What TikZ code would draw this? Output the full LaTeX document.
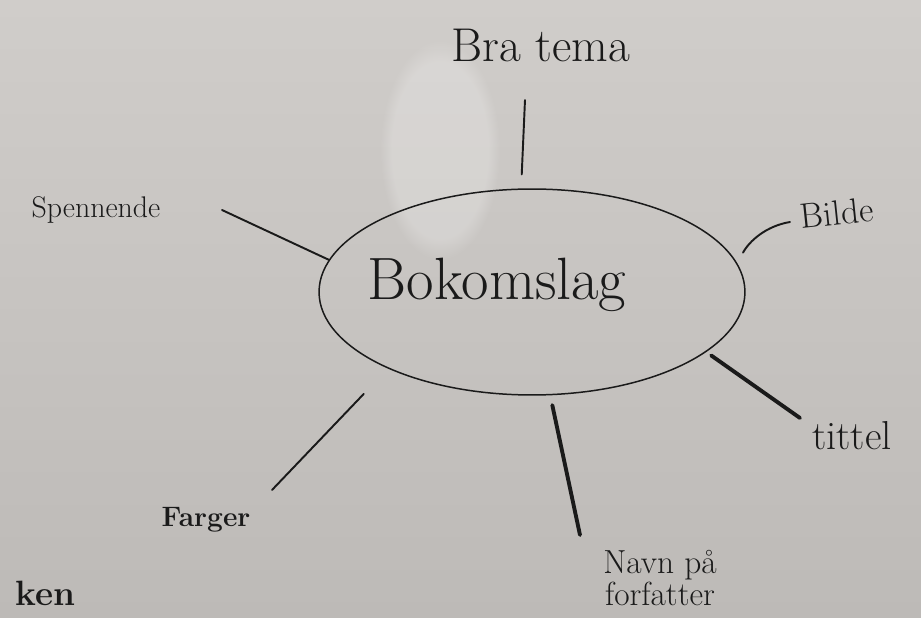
\documentclass[tikz,border=0pt]{standalone}
\usepackage{xcolor}
\usepackage{tikz}
\usetikzlibrary{shapes.geometric,fadings}
\definecolor{bokBoardTop}{HTML}{D0CDCA}
\definecolor{bokBoardLow}{HTML}{BDBAB7}
\definecolor{bokInk}{HTML}{1A1A1A}

\begin{document}
\begin{tikzpicture}[
  x=0.02cm, y=-0.02cm,
  every node/.style={align=center, text=bokInk, inner sep=0pt},
  word/.style={font=\fontsize{#1}{#1}\selectfont},
  boldword/.style={font=\fontsize{#1}{#1}\selectfont\bfseries},
  oval/.style={draw=bokInk, ellipse, line width=0.85pt, minimum width=8.52cm, minimum height=4.12cm},
  spoke/.style={line width=1.1pt, bokInk, line cap=round},
  fatspoke/.style={line width=2.2pt, bokInk, line cap=round},
]
  % whiteboard
  \clip (0,0) rectangle (921,618);
  \shade[top color=bokBoardTop, bottom color=bokBoardLow] (0,0) rectangle (921,618);
  \fill[white, opacity=0.22, path fading=circle with fuzzy edge 20 percent] (440,150) ellipse [x radius=60, y radius=110];

  % centre
  \node[oval] (bok) at (532,292) {};
  \node[word=34pt, anchor=base] (boktxt) at (497,300) {Bokomslag};

  % labels
  \node[word=27pt, anchor=base] (tema) at (541,62) {Bra tema};
  \node[word=17pt, anchor=base] (spenn) at (96,218) {Spennende};
  \node[word=20pt, anchor=base, rotate=6] (bilde) at (838,225) {Bilde};
  \node[word=23pt, anchor=base] (tittel) at (852,450) {tittel};
  \node[font=\fontsize{19pt}{14pt}\selectfont] (navn) at (660,578) {Navn på\\forfatter};
  \node[boldword=16pt, anchor=base] (farger) at (206,527) {Farger};
  \node[boldword=20pt, anchor=base west] (ken) at (15,606) {ken};

  % free ends near the labels
  \coordinate (temaEnd) at (525,100);
  \coordinate (spennEnd) at (222,210);
  \coordinate (bildeEnd) at (790,222);
  \coordinate (tittelEnd) at (800,418);
  \coordinate (navnEnd) at (580,535);
  \coordinate (fargerEnd) at (272,490);

  \draw[spoke, shorten <=0.28cm] (bok.96) -- (temaEnd);
  \draw[spoke] (bok.171) -- (spennEnd);
  \draw[spoke, shorten <=0.24cm] (bok.8) .. controls +(0.24cm,0.44cm) and +(-0.48cm,-0.08cm) .. (bildeEnd);
  \draw[fatspoke, shorten <=0.12cm] (bok.-19.5) -- (tittelEnd);
  \draw[fatspoke, shorten <=0.2cm] (bok.-80) -- (navnEnd);
  \draw[spoke, shorten <=0.7cm] (bok.-152) -- (fargerEnd);
\end{tikzpicture}
\end{document}
